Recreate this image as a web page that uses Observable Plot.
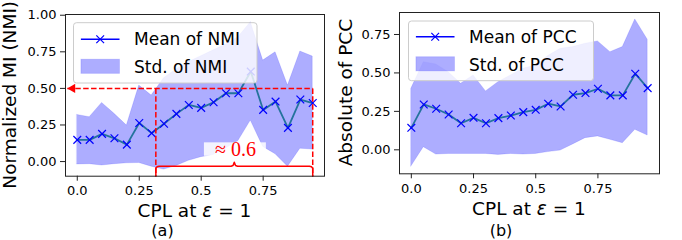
<!DOCTYPE html>
<html><head><meta charset="utf-8">
<script src="https://cdn.jsdelivr.net/npm/d3@7"></script>
<script src="https://cdn.jsdelivr.net/npm/@observablehq/plot@0.6"></script>
<style>
body{margin:0;background:#fff;}
#wrap{position:relative;width:682px;height:240px;overflow:hidden;font-family:"DejaVu Sans";}
#wrap svg{position:absolute;top:0;}
</style></head><body><div id="wrap"></div>
<script>
// ---- data ----
const cpl = [0,0.05,0.1,0.15,0.2,0.25,0.3,0.35,0.4,0.45,0.5,0.55,0.6,0.65,0.7,0.75,0.8,0.85,0.9,0.95];
const nmiMean  = [0.148,0.148,0.189,0.159,0.116,0.264,0.194,0.258,0.326,0.387,0.367,0.405,0.467,0.467,0.615,0.353,0.41,0.23,0.424,0.40];
const nmiLower = [-0.02,-0.018,-0.027,-0.018,-0.012,-0.01,-0.035,-0.055,-0.03,0.005,0.03,0.045,0.09,0.14,0.28,0.10,0.05,-0.035,0.088,0.082];
const nmiUpper = [0.319,0.303,0.401,0.326,0.246,0.519,0.451,0.57,0.63,0.68,0.72,0.76,0.80,0.85,0.952,0.69,0.747,0.519,0.752,0.718];
const pccMean  = [0.143,0.295,0.267,0.23,0.173,0.208,0.173,0.206,0.223,0.245,0.26,0.30,0.282,0.358,0.369,0.397,0.354,0.354,0.495,0.401];
const pccLower = [-0.109,0.017,-0.031,-0.027,-0.027,-0.027,-0.027,-0.033,-0.027,-0.031,-0.027,-0.015,-0.005,0.035,0.076,0.087,0.065,0.043,0.13,0.093];
const pccUpper = [0.397,0.57,0.555,0.505,0.43,0.484,0.38,0.44,0.484,0.527,0.549,0.61,0.657,0.668,0.69,0.705,0.635,0.668,0.848,0.716];
const xTicks = [0, 0.25, 0.5, 0.75];
const xTickLabels = ["0.0", "0.25", "0.5", "0.75"];
const nmiYTicks = [0, 0.25, 0.5, 0.75, 1];
const pccYTicks = [0, 0.25, 0.5, 0.75];
const nmiYLabel = "Normalized MI (NMI)";
const pccYLabel = "Absolute of PCC";
const nmiLegend = ["Mean of NMI", "Std. of NMI"];
const pccLegend = ["Mean of PCC", "Std. of PCC"];
const subCaptions = ["(a)", "(b)"];
// annotation of panel (a)
const refLevel = 0.5;
const spanStart = 0.317, spanEnd = 0.95;
const arrowTip = -0.04;
const approxText = "≈ 0.6";
const approxBox = {x1: 0.513, x2: 0.763, y1: 0.036, y2: 0.128};
const braceBase = -0.032, braceTip = -0.004, braceFoot = -0.1;

const xDomain = [-0.0475, 0.9975];
const bandColor = "blue", lineColor = "#24739c", markColor = "blue";

function panel({mean, lower, upper, yDomain, yTicks, width, ml, mr, mt, mb, extra = []}) {
  const data = cpl.map((x, i) => ({x, m: mean[i], lo: lower[i], hi: upper[i]}));
  return Plot.plot({
    width, height: 240,
    marginLeft: ml, marginRight: mr, marginTop: mt, marginBottom: mb,
    x: {domain: xDomain},
    y: {domain: yDomain},
    style: {fontFamily: "DejaVu Sans", fontSize: "13px", color: "black", background: "transparent", overflow: "visible"},
    marks: [
      Plot.areaY(data, {x: "x", y1: "lo", y2: "hi", fill: bandColor, fillOpacity: 0.32, stroke: bandColor, strokeOpacity: 0.12}),
      Plot.line(data, {x: "x", y: "m", stroke: lineColor, strokeWidth: 1.8}),
      Plot.dot(data, {x: "x", y: "m", symbol: "times", r: 3.6, stroke: markColor, strokeWidth: 1.2}),
      ...extra,
      Plot.axisX({ticks: xTicks, tickFormat: d => xTickLabels[xTicks.indexOf(d)], tickSize: 5, tickPadding: 5, label: null, stroke: "#222"}),
      Plot.axisY({ticks: yTicks, tickFormat: d3.format(".2f"), tickSize: 5, tickPadding: 4, label: null, stroke: "#222"}),
      Plot.frame({stroke: "#222", strokeWidth: 1})
    ]
  });
}

// annotation marks for panel (a)
const dash = {stroke: "red", strokeWidth: 1.5, strokeDasharray: "5.5,2.4"};
const xm = (spanStart + spanEnd) / 2;
const brace = [
  [spanStart, braceFoot], [spanStart, braceBase - 0.014], [spanStart + 0.005, braceBase - 0.004], [spanStart + 0.013, braceBase],
  [xm - 0.013, braceBase], [xm - 0.005, braceBase + 0.005], [xm, braceTip],
  [xm + 0.005, braceBase + 0.005], [xm + 0.013, braceBase],
  [spanEnd - 0.013, braceBase], [spanEnd - 0.005, braceBase - 0.004], [spanEnd, braceBase - 0.014], [spanEnd, braceFoot]
];
const annot = [
  Plot.link([{x1: arrowTip, x2: spanEnd}], {x1: "x1", x2: "x2", y1: refLevel, y2: refLevel, ...dash}),
  Plot.link([spanStart, spanEnd], {x1: d => d, x2: d => d, y1: refLevel, y2: braceFoot, ...dash}),
  Plot.dot([arrowTip], {x: d => d, y: refLevel, dx: 5.2, symbol: "triangle", rotate: -90, r: 3.4, fill: "red", stroke: "none"}),
  Plot.line(brace, {x: d => d[0], y: d => d[1], stroke: "red", strokeWidth: 1.5}),
  Plot.rect([approxBox], {x1: "x1", x2: "x2", y1: "y1", y2: "y2", fill: "white", fillOpacity: 0.85}),
  Plot.text([approxText], {x: (approxBox.x1 + approxBox.x2) / 2, y: (approxBox.y1 + approxBox.y2) / 2, text: d => d, fill: "red", fontSize: 20, fontFamily: "Liberation Serif", lineAnchor: "middle"})
];

const wrap = document.getElementById("wrap");
const left = panel({mean: nmiMean, lower: nmiLower, upper: nmiUpper, yDomain: [-0.1, 1.005], yTicks: nmiYTicks,
  width: 340, ml: 65, mr: 16, mt: 14, mb: 64.3, extra: annot});
left.style.left = "0px";
wrap.appendChild(left);
const right = panel({mean: pccMean, lower: pccLower, upper: pccUpper, yDomain: [-0.156, 0.893], yTicks: pccYTicks,
  width: 342, ml: 59, mr: 23, mt: 12, mb: 66.7});
right.style.left = "340px";
wrap.appendChild(right);

// overlay: axis titles, sub-captions, legends
const ov = d3.select(wrap).append("svg").attr("width", 682).attr("height", 240)
  .style("left", "0px").style("pointer-events", "none")
  .attr("font-family", "DejaVu Sans").attr("fill", "black");

function xTitle(cx, baseline) {
  const t = ov.append("text").attr("x", cx).attr("y", baseline).attr("text-anchor", "middle").attr("font-size", 18.5);
  t.append("tspan").text("CPL at ");
  t.append("tspan").attr("font-style", "italic").text("ε");
  t.append("tspan").text(" = 1");
}
xTitle(194.5, 217);
xTitle(529, 215);
ov.append("text").attr("transform", "translate(15.7,94.8) rotate(-90)").attr("text-anchor", "middle").attr("font-size", 18.5).text(nmiYLabel);
ov.append("text").attr("transform", "translate(352,92.6) rotate(-90)").attr("text-anchor", "middle").attr("font-size", 18.5).text(pccYLabel);
ov.append("text").attr("x", 162.5).attr("y", 236).attr("text-anchor", "middle").attr("font-size", 16).text(subCaptions[0]);
ov.append("text").attr("x", 501).attr("y", 235.5).attr("text-anchor", "middle").attr("font-size", 16).text(subCaptions[1]);

function legend(bx, by, bw, bh, labels, lineY, textX, base1, patchY, base2) {
  ov.append("rect").attr("x", bx).attr("y", by).attr("width", bw).attr("height", bh).attr("rx", 3)
    .attr("fill", "white").attr("fill-opacity", 0.8).attr("stroke", "#cccccc").attr("stroke-width", 1);
  const hx1 = bx + 7.4, hx2 = bx + 46;
  ov.append("line").attr("x1", hx1).attr("x2", hx2).attr("y1", lineY).attr("y2", lineY).attr("stroke", "blue").attr("stroke-width", 1.6);
  ov.append("path").attr("transform", `translate(${(hx1 + hx2) / 2},${lineY})`)
    .attr("d", d3.symbol(d3.symbolTimes, Math.PI * 3.6 * 3.6)()).attr("fill", "none").attr("stroke", "blue").attr("stroke-width", 1.2);
  ov.append("text").attr("x", textX).attr("y", base1).attr("font-size", 17).text(labels[0]);
  ov.append("rect").attr("x", hx1).attr("y", patchY).attr("width", hx2 - hx1).attr("height", 14.2)
    .attr("fill", "blue").attr("fill-opacity", 0.32).attr("stroke", "blue").attr("stroke-opacity", 0.12);
  ov.append("text").attr("x", textX).attr("y", base2).attr("font-size", 17).text(labels[1]);
}
legend(73.5, 22.7, 183.5, 60.3, nmiLegend, 39.3, 134, 45, 59.2, 73.3);
legend(408.5, 21, 185, 59.7, pccLegend, 36.7, 469, 43.3, 56.7, 71);
</script></body></html>
